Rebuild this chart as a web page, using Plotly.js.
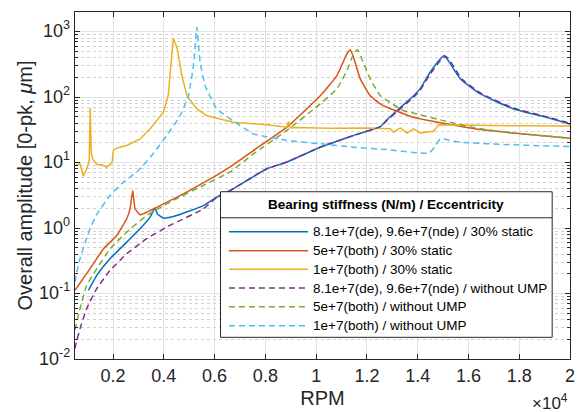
<!DOCTYPE html>
<html>
<head>
<meta charset="utf-8">
<script src="https://cdn.plot.ly/plotly-3.0.1.min.js"></script>
<style>html,body{margin:0;padding:0;background:#fff;}#chart{width:584px;height:412px;}</style>
</head>
<body>
<div id="chart"></div>
<script>
// ---- data ----
var rpmBlue = [1030, 1356, 1880, 2538, 3063, 3457, 3654, 3745, 3982, 4510, 5560, 6087, 6612, 8057, 8846, 10160, 11475, 12530, 12790, 13185, 13840, 14100, 14490, 14890, 15050, 15290, 15680, 16470, 17780, 19100, 20000];
var ampBlue = [0.112, 0.189, 0.34, 0.61, 0.975, 1.47, 2.02, 1.65, 1.42, 1.56, 2.2, 2.97, 3.75, 8.05, 10.2, 17.2, 26, 35.5, 45, 62.5, 105, 135, 240, 382, 432, 322, 190, 112, 66, 49, 39];

var rpmRed = [500, 1092, 1616, 2144, 2538, 2669, 2775, 2866, 3063, 3327, 3852, 4904, 5953, 6612, 7530, 8846, 10160, 10818, 11210, 11340, 11475, 11740, 12130, 12530, 12790, 13840, 14100, 15160, 16470, 17780, 20000];
var ampRed = [0.112, 0.24, 0.48, 0.77, 1.39, 1.97, 3.75, 1.97, 1.6, 1.75, 2.2, 3.55, 6.0, 8.6, 15.3, 34.8, 105, 214, 458, 530, 405, 190, 105, 79, 70, 49.2, 46.6, 39, 32, 28.3, 23.6];

var rpmYellow = [500, 697, 827, 985, 1060, 1100, 1140, 1200, 1356, 1553, 1750, 1880, 1960, 2010, 2077, 2330, 2538, 3063, 3457, 3982, 4180, 4273, 4325, 4377, 4512, 4710, 4907, 5300, 5693, 6480, 6743, 8057, 8846, 8910, 8975, 9107, 10500, 12000, 12920, 13050, 13315, 13580, 13840, 14100, 14630, 14825, 16000, 18000, 20000];
var ampYellow = [9.0, 9.6, 6.2, 8.5, 11, 68, 14, 11.5, 9.35, 9.3, 8.5, 9.6, 10, 15.3, 16.2, 17.5, 18.3, 23, 32.8, 59, 110, 303, 550, 790, 577, 214, 105, 66, 52, 44, 41.5, 37.8, 34.8, 42.4, 34, 34.5, 33.5, 33.7, 33, 29.2, 34, 28.3, 32.8, 28.5, 30.2, 37.8, 37, 36.5, 36.4];

var rpmPurple = [500, 540, 697, 961, 1356, 1880, 2538, 3327, 4240, 5560, 6087, 6612, 8057, 8846, 10160, 11475, 12530, 12790, 13185, 13840, 14100, 14490, 14890, 15120, 15350, 15740, 16500, 17780, 19100, 20000];
var ampPurple = [0.0145, 0.0172, 0.029, 0.059, 0.119, 0.225, 0.405, 0.69, 1.1, 1.97, 2.97, 3.75, 8.05, 10.2, 17.2, 26, 35.5, 44, 60, 100, 128, 225, 360, 420, 322, 190, 114, 68, 50, 40];

var rpmGreen = [500, 540, 697, 961, 1356, 1880, 2538, 3327, 4240, 5560, 6612, 7530, 8846, 10160, 10818, 11210, 11475, 11630, 11800, 12130, 12530, 12790, 13450, 13840, 15160, 16470, 17780, 20000];
var ampGreen = [0.028, 0.0325, 0.059, 0.133, 0.24, 0.48, 0.87, 1.56, 2.5, 4.5, 7.2, 13.6, 31, 79, 134, 254, 458, 530, 382, 190, 105, 89, 62, 57, 42.4, 32.8, 28.3, 23.6];

var rpmCyan = [500, 540, 697, 900, 1092, 1350, 1880, 2400, 2933, 3063, 3600, 4116, 4640, 4967, 5165, 5300, 5430, 5626, 6087, 6612, 7530, 8846, 10160, 11475, 12790, 14450, 14690, 14890, 15680, 17780, 20000];
var ampCyan = [0.15, 0.19, 0.34, 0.6, 0.975, 1.6, 3.14, 5, 7.2, 8.05, 14, 26, 52, 105, 303, 1170, 343, 150, 66, 46.6, 27.5, 21.8, 19.4, 17.2, 15.8, 14.0, 17.8, 23, 20.5, 18.7, 17.6];

var seriesNames = ["8.1e+7(de), 9.6e+7(nde) / 30% static", "5e+7(both) / 30% static", "1e+7(both) / 30% static",
                   "8.1e+7(de), 9.6e+7(nde) / without UMP", "5e+7(both) / without UMP", "1e+7(both) / without UMP"];
var legendTitle = "Bearing stiffness (N/m) / Eccentricity";

var xTickVals = [2000, 4000, 6000, 8000, 10000, 12000, 14000, 16000, 18000, 20000];
var xTickText = ["0.2", "0.4", "0.6", "0.8", "1", "1.2", "1.4", "1.6", "1.8", "2"];
var yTickVals = [0.01, 0.1, 1, 10, 100, 1000];
var yTickText = ["10<sup>-2</sup>", "10<sup>-1</sup>", "10<sup>0</sup>", "10<sup>1</sup>", "10<sup>2</sup>", "10<sup>3</sup>"];

// ---- styles ----
var colors = ["#0072BD", "#D95319", "#EDB120", "#7E2F8E", "#77AC30", "#4DBEEE"];
var dashes = ["solid", "solid", "solid", "6px,4px", "6px,4px", "6px,4px"];
var shapesOf = ["spline", "spline", "linear", "spline", "spline", "spline"];
var xs = [rpmBlue, rpmRed, rpmYellow, rpmPurple, rpmGreen, rpmCyan];
var ys = [ampBlue, ampRed, ampYellow, ampPurple, ampGreen, ampCyan];

var traces = [0, 1, 2, 3, 4, 5].map(function (i) {
  return {
    x: xs[i], y: ys[i], type: "scatter", mode: "lines", name: seriesNames[i],
    line: {color: colors[i], width: 1.5, dash: dashes[i], shape: shapesOf[i], smoothing: 0.4}, showlegend: false
  };
});

// minor log ticks
var minorVals = [];
for (var e = -2; e <= 3; e++) { for (var m = 2; m <= 9; m++) { minorVals.push(m * Math.pow(10, e)); } }

var font = "Liberation Sans, Arial, Helvetica, sans-serif";
var axisColor = "#262626";

// custom legend (box + title separator + samples + labels), paper coordinates
var lg = {x0: 0.294, x1: 0.964, y0: 0.0625, y1: 0.482, sep: 0.407, titleY: 0.445,
          sx0: 0.311, sx1: 0.471, tx: 0.477, rows: [0.367, 0.312, 0.259, 0.2046, 0.1507, 0.096]};
var shapes = [
  {type: "rect", xref: "paper", yref: "paper", x0: lg.x0, x1: lg.x1, y0: lg.y0, y1: lg.y1,
   fillcolor: "#ffffff", line: {color: axisColor, width: 1}, layer: "above"},
  {type: "line", xref: "paper", yref: "paper", x0: lg.x0, x1: lg.x1, y0: lg.sep, y1: lg.sep,
   line: {color: axisColor, width: 1}, layer: "above"}
];
var annotations = [
  {xref: "paper", yref: "paper", x: (lg.x0 + lg.x1) / 2, y: lg.titleY, text: "<b>" + legendTitle + "</b>",
   showarrow: false, xanchor: "center", yanchor: "middle", font: {family: font, size: 13.5, color: "#000"}},
  {xref: "paper", yref: "paper", x: 1.0, y: -0.125, text: "\u00d710<sup>4</sup>", showarrow: false,
   xanchor: "right", yanchor: "middle", font: {family: font, size: 17, color: axisColor}},
  {xref: "paper", yref: "paper", x: -0.103, y: 0.5, text: "Overall amplitude [0-pk, <i>\u03bc</i>m]",
   textangle: -90, showarrow: false, xanchor: "center", yanchor: "middle",
   font: {family: font, size: 20, color: axisColor}}
];
// y tick labels placed at the tick values on the log axis
yTickVals.forEach(function (v, k) {
  annotations.push({xref: "paper", yref: "y", x: -0.006, y: Math.log10(v), text: yTickText[k], showarrow: false,
                    xanchor: "right", yanchor: "middle", yshift: 2, font: {family: font, size: 18, color: axisColor}});
});
for (var i = 0; i < 6; i++) {
  shapes.push({type: "line", xref: "paper", yref: "paper", x0: lg.sx0, x1: lg.sx1, y0: lg.rows[i], y1: lg.rows[i],
               line: {color: colors[i], width: 1.5, dash: dashes[i]}, layer: "above"});
  annotations.push({xref: "paper", yref: "paper", x: lg.tx, y: lg.rows[i], text: seriesNames[i], showarrow: false,
                    xanchor: "left", yanchor: "middle", font: {family: font, size: 13.5, color: "#000"}});
}

var layout = {
  width: 584, height: 412,
  margin: {l: 75, r: 14, t: 12, b: 53},
  paper_bgcolor: "#ffffff", plot_bgcolor: "#ffffff",
  font: {family: font, color: axisColor},
  showlegend: false,
  xaxis: {
    range: [500, 20000], tickvals: xTickVals, ticktext: xTickText,
    ticks: "inside", ticklen: 5, tickcolor: axisColor, mirror: "ticks",
    showline: true, linecolor: axisColor, linewidth: 1,
    showgrid: true, gridcolor: "#e3e3e3", gridwidth: 1, zeroline: false,
    tickfont: {size: 18, color: axisColor},
    title: {text: "RPM", font: {size: 20, color: axisColor}, standoff: 6}
  },
  yaxis: {
    type: "log", range: [-2, Math.log10(2000)], tickvals: yTickVals, showticklabels: false,
    ticks: "inside", ticklen: 5, tickcolor: axisColor, mirror: "ticks",
    showline: true, linecolor: axisColor, linewidth: 1,
    showgrid: true, gridcolor: "#e3e3e3", gridwidth: 1, zeroline: false,
    minor: {tickvals: minorVals, ticks: "inside", ticklen: 3, tickcolor: axisColor,
            showgrid: true, gridcolor: "#d0d0d0", griddash: "dot", gridwidth: 1}
  },
  shapes: shapes,
  annotations: annotations
};

Plotly.newPlot("chart", traces, layout, {staticPlot: true, displayModeBar: false});
</script>
</body>
</html>
